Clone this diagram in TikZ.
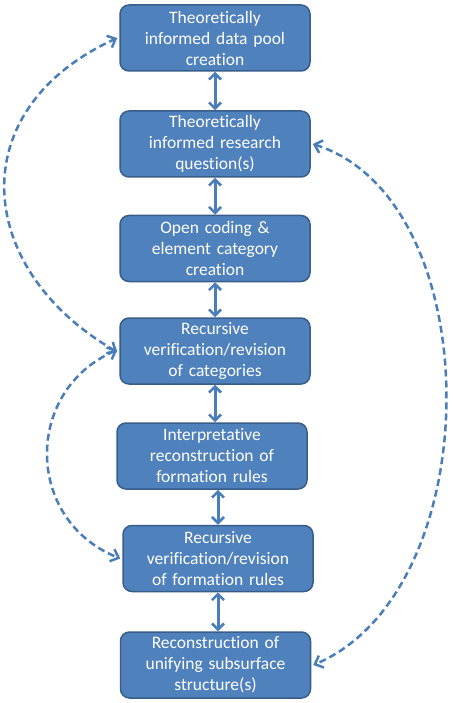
\documentclass[tikz,border=0pt]{standalone}
\usepackage{fontspec}
\setmainfont[Ligatures=NoCommon]{Carlito}
\usetikzlibrary{arrows.meta}
\definecolor{boxfill}{HTML}{4F81BD}
\definecolor{boxline}{HTML}{385D8A}
\definecolor{arrowcol}{HTML}{4A7EBB}
\tikzset{
  stepbox/.style={draw=boxline, line width=1.5pt, fill=boxfill, rounded corners=9pt,
    minimum width=190pt, minimum height=66pt, text width=180pt, align=center,
    text=white, inner sep=0pt, font=\fontsize{17.5}{21}\selectfont},
  link/.style={draw=arrowcol, line width=3pt, {Straight Barb[length=6pt,width=12pt,line width=2.5pt]}-{Straight Barb[length=6pt,width=12pt,line width=2.5pt]}},
  loop/.style={draw=arrowcol, line width=2.5pt, dash pattern=on 7pt off 4pt, {Straight Barb[length=7pt,width=13pt]}-{Straight Barb[length=7pt,width=13pt]}}
}
\begin{document}
\begin{tikzpicture}[x=1pt,y=-1pt]
\useasboundingbox (0,0) rectangle (453,703);
\node[stepbox] (n1) at (215,38) {Theoretically\\informed data pool\\creation};
\node[stepbox] (n2) at (215,144) {Theoretically\\informed research\\question(s)};
\node[stepbox] (n3) at (215,248.5) {Open coding \&\\element category\\creation};
\node[stepbox] (n4) at (215,351) {Recursive\\verification/revision\\of categories};
\node[stepbox] (n5) at (212,456) {Interpretative\\reconstruction of\\formation rules};
\node[stepbox] (n6) at (218,558.5) {Recursive\\verification/revision\\of formation rules};
\node[stepbox] (n7) at (215.5,665) {Reconstruction of\\unifying subsurface\\structure(s)};
\draw[link] (n1.south) -- (n2.north);
\draw[link] (n2.south) -- (n3.north);
\draw[link] (n3.south) -- (n4.north);
\draw[link] (n4.south) -- (n4.south |- n5.north);
\draw[link] (n5.south -| n6.north) -- (n6.north);
\draw[link] (n6.south) -- (n6.south |- n7.north);
\coordinate (a1) at ([xshift=-2pt]n1.west);
\coordinate (a4) at ([xshift=-2pt,yshift=-1pt]n4.west);
\coordinate (b4) at ([xshift=-2pt,yshift=1pt]n4.west);
\coordinate (b6) at ([xshift=-2pt]n6.west);
\coordinate (c2) at ([xshift=2pt]n2.east);
\coordinate (c7) at ([xshift=2pt]n7.east);
\draw[loop] (a4) .. controls (-25,270) and (-40,110) .. (a1);
\draw[loop] (b4) .. controls (24,390) and (24,520) .. (b6);
\draw[loop] (c2) .. controls (490,200) and (490,590) .. (c7);
\end{tikzpicture}
\end{document}
